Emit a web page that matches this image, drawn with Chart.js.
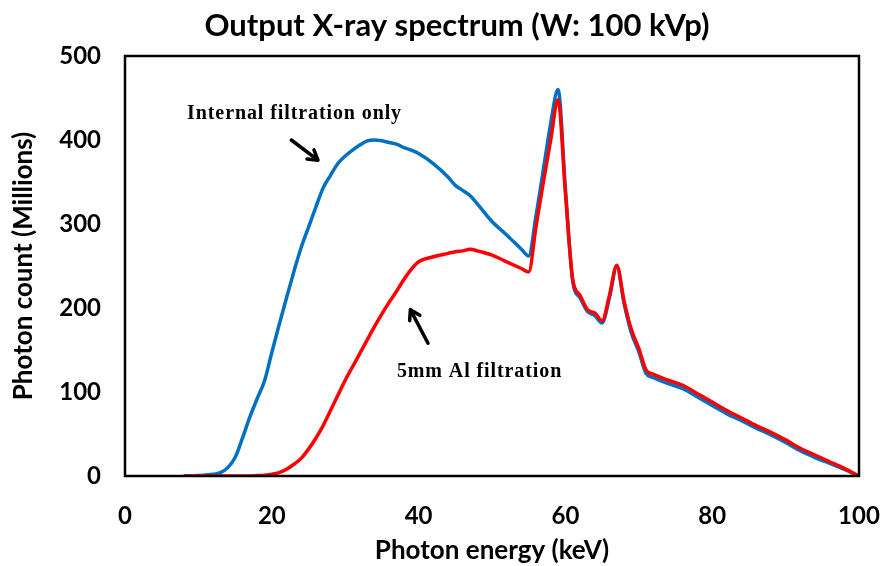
<!DOCTYPE html>
<html>
<head>
<meta charset="utf-8">
<script src="https://cdn.jsdelivr.net/npm/chart.js@4/dist/chart.umd.min.js"></script>
<style>
  html, body { margin: 0; padding: 0; background: #fff; }
  #wrap { width: 885px; height: 566px; }
</style>
</head>
<body>
<div id="wrap"><canvas id="spectrum"></canvas></div>
<script>
// photon energy bins (keV)
const energies = [8, 10, 12, 13, 14, 15, 16, 17, 18, 19, 20, 21, 22, 23, 24, 25, 26, 27, 28, 29,
  30, 31, 32, 33, 34, 35, 36, 37, 38, 39, 40, 42, 44, 45, 46, 47, 48, 50, 52, 54,
  55, 56, 57, 58, 59, 60, 61, 62, 63, 64, 65, 66, 67, 68, 69, 70, 71, 72, 74, 76,
  78, 80, 82, 84, 86, 88, 90, 92, 94, 96, 98, 100];

// photon counts (millions), internal filtration only
const internalOnly = [0, 0.5, 2, 4, 10, 22, 45, 70, 92, 113, 147, 180, 212, 243, 272, 296, 320, 343, 358, 372,
  381, 388, 394, 399, 400, 399, 397, 395, 391, 388, 384, 372, 356, 346, 340, 334, 324, 303, 287, 270,
  262, 310, 365, 420, 460, 342, 232, 212, 196, 191, 182, 212, 249, 205, 170, 148, 122, 117, 110, 104,
  94, 84, 74, 66, 57, 49, 40, 30, 22, 15, 8, 0];

// photon counts (millions), 5mm Al filtration
const alFiltered = [0, 0, 0, 0, 0, 0, 0, 0, 0.5, 1, 2, 4, 8, 14, 21, 32, 45, 60, 78, 96,
  114, 130, 146, 162, 178, 193, 207, 220, 234, 246, 255, 261, 265, 267, 268, 270, 268, 263, 255, 247,
  243, 297, 350, 400, 448, 337, 234, 215, 198, 194, 185, 215, 251, 208, 174, 152, 126, 121, 114, 108,
  98, 88, 78, 69, 60, 52, 43, 33, 25, 17, 9, 0];

const xTicks = [0, 20, 40, 60, 80, 100];
const yTicks = [0, 100, 200, 300, 400, 500];

const toPoints = vals => energies.map((e, i) => ({ x: e, y: vals[i] }));

// title, frame round the plot area, and the two labelled arrows
const extras = {
  id: 'extras',
  afterDraw(chart) {
    const { ctx, chartArea: a, scales: { x, y } } = chart;
    ctx.save();
    ctx.fillStyle = '#000';
    ctx.font = 'bold 31px Lato, "Open Sans", sans-serif';
    ctx.textAlign = 'center';
    ctx.textBaseline = 'middle';
    ctx.fillText('Output X-ray spectrum (W: 100 kVp)', 457, 26);

    ctx.strokeStyle = '#000';
    ctx.lineWidth = 2.5;
    ctx.strokeRect(a.left, a.top, a.right - a.left, a.bottom - a.top);

    ctx.font = 'bold 20px "Liberation Serif", "Times New Roman", serif';
    ctx.letterSpacing = '0.9px';
    ctx.fillText('Internal filtration only', x.getPixelForValue(23.1), y.getPixelForValue(431));
    ctx.fillText('5mm Al filtration', x.getPixelForValue(48.3), y.getPixelForValue(124));

    arrow(ctx, x.getPixelForValue(22.66), y.getPixelForValue(400), x.getPixelForValue(26.29), y.getPixelForValue(376));
    arrow(ctx, x.getPixelForValue(41.28), y.getPixelForValue(158), x.getPixelForValue(38.88), y.getPixelForValue(198));
    ctx.restore();
  }
};

function arrow(ctx, x0, y0, x1, y1) {
  const ang = Math.atan2(y1 - y0, x1 - x0);
  const len = 11;
  ctx.lineWidth = 3.5;
  ctx.lineCap = 'round';
  ctx.lineJoin = 'round';
  ctx.beginPath();
  ctx.moveTo(x0, y0);
  ctx.lineTo(x1, y1);
  ctx.moveTo(x1 - len * Math.cos(ang - 0.55), y1 - len * Math.sin(ang - 0.55));
  ctx.lineTo(x1, y1);
  ctx.lineTo(x1 - len * Math.cos(ang + 0.55), y1 - len * Math.sin(ang + 0.55));
  ctx.stroke();
}

const tickFont = { family: 'Lato, "Open Sans", sans-serif', size: 24, weight: 'bold' };
const titleFont = { family: 'Lato, "Open Sans", sans-serif', size: 26, weight: 'bold' };

new Chart(document.getElementById('spectrum'), {
  type: 'line',
  data: {
    datasets: [
      {
        label: '5mm Al filtration',
        data: toPoints(alFiltered),
        borderColor: '#FF0000',
        borderWidth: 3.5,
        pointRadius: 0,
        cubicInterpolationMode: 'monotone',
        order: 0
      },
      {
        label: 'Internal filtration only',
        data: toPoints(internalOnly),
        borderColor: '#0070C0',
        borderWidth: 3.5,
        pointRadius: 0,
        cubicInterpolationMode: 'monotone',
        order: 1
      }
    ]
  },
  plugins: [extras],
  options: {
    responsive: true,
    maintainAspectRatio: false,
    animation: false,
    layout: { padding: { left: 0, right: 26, top: 56, bottom: 0 } },
    plugins: {
      legend: { display: false },
      tooltip: { enabled: false },
      title: { display: false }
    },
    scales: {
      x: {
        type: 'linear',
        min: 0,
        max: 100,
        afterBuildTicks: s => { s.ticks = xTicks.map(v => ({ value: v })); },
        afterFit: s => { s.height = 90; s.paddingLeft = 0; s.paddingRight = 0; },
        grid: { display: false, drawTicks: false },
        border: { display: false },
        ticks: { color: '#000', font: tickFont, padding: 26 },
        title: {
          display: true,
          text: 'Photon energy (keV)',
          color: '#000',
          font: titleFont,
          padding: { top: 4, bottom: 0 }
        }
      },
      y: {
        min: 0,
        max: 500,
        afterBuildTicks: s => { s.ticks = yTicks.map(v => ({ value: v })); },
        afterFit: s => { s.width = 125; },
        grid: { display: false, drawTicks: false },
        border: { display: false },
        ticks: { color: '#000', font: tickFont, padding: 24 },
        title: {
          display: true,
          text: 'Photon count (Millions)',
          color: '#000',
          font: titleFont,
          padding: { top: 8, bottom: 0 }
        }
      }
    }
  }
});
</script>
</body>
</html>
